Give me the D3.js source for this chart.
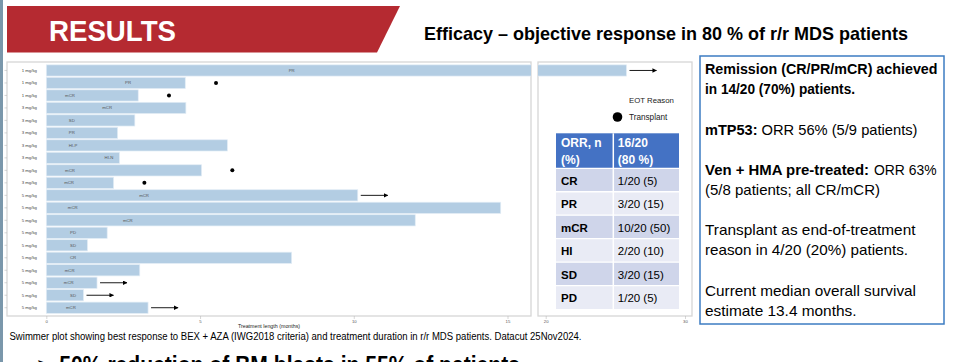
<!DOCTYPE html>
<html>
<head>
<meta charset="utf-8">
<script src="https://cdn.jsdelivr.net/npm/d3@7"></script>
<style>
  body { margin: 0; background: #fff; }
  svg { display: block; font-family: "Liberation Sans", Arial, sans-serif; }
</style>
</head>
<body>
<script>
// swimmer plot data, one entry per patient (top to bottom)
var doses = ["1 mg/kg","1 mg/kg","1 mg/kg","3 mg/kg","3 mg/kg","3 mg/kg","3 mg/kg","3 mg/kg","3 mg/kg","3 mg/kg",
             "5 mg/kg","5 mg/kg","5 mg/kg","5 mg/kg","5 mg/kg","5 mg/kg","5 mg/kg","5 mg/kg","5 mg/kg","5 mg/kg"];
var months = [25.8, 4.52, 2.99, 4.54, 2.88, 2.32, 5.89, 2.38, 5.05, 2.19,
              10.13, 14.78, 12.0, 1.98, 1.34, 7.98, 3.04, 1.65, 1.21, 3.31];
var response = ["PR","PR","mCR","mCR","SD","PR","HI-P","HI-N","mCR","mCR",
                "mCR","mCR","mCR","PD","SD","CR","mCR","mCR","SD","mCR"];
// where the response label sits along the bar (months)
var labelAt = [7.98, 2.66, 0.77, 1.98, 0.83, 0.83, 0.87, 2.04, 0.77, 0.74,
               3.18, 0.86, 2.65, 0.87, 0.87, 0.87, 0.76, 0.73, 0.87, 0.8];
var ongoing = [1,0,0,0,0,0,0,0,0,0, 1,0,0,0,0,0,0,1,1,1];
var transplant = [0,1,1,0,0,0,0,0,1,1, 0,0,0,0,0,0,0,0,0,0];

var leftTicks = [0, 5, 10, 15];
var rightTicks = [20, 30];

// ORR table
var tableHead = ["ORR, n", "(%)", "16/20", "(80 %)"];
var tableCats = ["CR","PR","mCR","HI","SD","PD"];
var tableVals = ["1/20 (5)","3/20 (15)","10/20 (50)","2/20 (10)","3/20 (15)","1/20 (5)"];

var svg = d3.select("body").append("svg")
    .attr("width", 958)
    .attr("height", 362);

// slide edge stripe
svg.append("rect").attr("x", 0).attr("y", 0).attr("width", 3).attr("height", 362).attr("fill", "#7a97ab");

// header banner
svg.append("path")
    .attr("d", "M7,6 L400,6 L377,52.5 L7,52.5 Z")
    .attr("fill", "#b52a31");
svg.append("text").attr("x", 49).attr("y", 40.7)
    .attr("font-size", 29).attr("font-weight", "bold").attr("fill", "#fff")
    .attr("textLength", 127).attr("lengthAdjust", "spacingAndGlyphs")
    .text("RESULTS");
svg.append("text").attr("x", 424).attr("y", 39.5)
    .attr("font-size", 18.5).attr("font-weight", "bold").attr("fill", "#000")
    .attr("textLength", 484).attr("lengthAdjust", "spacingAndGlyphs")
    .text("Efficacy \u2013 objective response in 80 % of r/r MDS patients");

// scales
var xL = d3.scaleLinear().domain([0, 15]).range([46.3, 507.5]);
var xR = d3.scaleLinear().domain([20, 30]).range([545.7, 685]);
var y = d3.scaleBand().domain(d3.range(months.length)).range([63.6, 314.6]).padding(0.1);

var leftBox = {x0: 7, x1: 531, y0: 62, y1: 316};
var rightBox = {x0: 538, x1: 692, y0: 62, y1: 316};
var breakAt = xL.invert(leftBox.x1);

var defs = svg.append("defs");
defs.append("clipPath").attr("id", "clipL").append("rect")
    .attr("x", leftBox.x0).attr("y", leftBox.y0)
    .attr("width", leftBox.x1 - leftBox.x0).attr("height", leftBox.y1 - leftBox.y0);
defs.append("clipPath").attr("id", "clipR").append("rect")
    .attr("x", rightBox.x0).attr("y", rightBox.y0)
    .attr("width", rightBox.x1 - rightBox.x0).attr("height", rightBox.y1 - rightBox.y0);
defs.append("marker").attr("id", "arrow")
    .attr("viewBox", "0 0 10 10").attr("refX", 9).attr("refY", 5)
    .attr("markerWidth", 4.5).attr("markerHeight", 4.5)
    .attr("markerUnits", "userSpaceOnUse").attr("orient", "auto")
    .append("path").attr("d", "M0,0 L10,5 L0,10 Z").attr("fill", "#000");

var rows = months.map(function (m, i) {
  return {i: i, m: m, dose: doses[i], resp: response[i], lab: labelAt[i],
          ongoing: ongoing[i], transplant: transplant[i]};
});

// panel frames
[leftBox, rightBox].forEach(function (b) {
  svg.append("rect").attr("x", b.x0).attr("y", b.y0)
      .attr("width", b.x1 - b.x0).attr("height", b.y1 - b.y0)
      .attr("fill", "#fff").attr("stroke", "#d6d6d6").attr("stroke-width", 1.3);
});

// left panel
var gL = svg.append("g").attr("clip-path", "url(#clipL)");
gL.selectAll("rect.bar").data(rows).enter().append("rect")
    .attr("class", "bar")
    .attr("x", xL(0))
    .attr("y", function (d) { return y(d.i); })
    .attr("width", function (d) { return xL(d.m) - xL(0); })
    .attr("height", y.bandwidth())
    .attr("fill", "#b3cde3")
    .attr("stroke", "#e3edf6").attr("stroke-width", 0.7);

gL.selectAll("text.resp").data(rows).enter().append("text")
    .attr("x", function (d) { return xL(d.lab); })
    .attr("y", function (d) { return y(d.i) + y.bandwidth() / 2 + 1.5; })
    .attr("text-anchor", "middle").attr("font-size", 4.3).attr("fill", "#555")
    .text(function (d) { return d.resp; });

gL.selectAll("circle").data(rows.filter(function (d) { return d.transplant; })).enter().append("circle")
    .attr("cx", function (d) { return xL(d.m + 1); })
    .attr("cy", function (d) { return y(d.i) + y.bandwidth() / 2; })
    .attr("r", 2).attr("fill", "#000");

gL.selectAll("line.arr").data(rows.filter(function (d) { return d.ongoing && d.m < breakAt; })).enter().append("line")
    .attr("x1", function (d) { return xL(d.m) + 3; })
    .attr("x2", function (d) { return xL(d.m) + 30; })
    .attr("y1", function (d) { return y(d.i) + y.bandwidth() / 2; })
    .attr("y2", function (d) { return y(d.i) + y.bandwidth() / 2; })
    .attr("stroke", "#000").attr("stroke-width", 0.9).attr("marker-end", "url(#arrow)");

// right panel (broken axis)
var gR = svg.append("g").attr("clip-path", "url(#clipR)");
var longRows = rows.filter(function (d) { return d.m > breakAt; });
gR.selectAll("rect.bar").data(longRows).enter().append("rect")
    .attr("x", xR(xR.invert(rightBox.x0) - 1))
    .attr("y", function (d) { return y(d.i); })
    .attr("width", function (d) { return xR(d.m) - xR(xR.invert(rightBox.x0) - 1); })
    .attr("height", y.bandwidth())
    .attr("fill", "#b3cde3")
    .attr("stroke", "#e3edf6").attr("stroke-width", 0.7);
gR.selectAll("line.arr").data(longRows.filter(function (d) { return d.ongoing; })).enter().append("line")
    .attr("x1", function (d) { return xR(d.m) + 3; })
    .attr("x2", function (d) { return xR(d.m) + 30; })
    .attr("y1", function (d) { return y(d.i) + y.bandwidth() / 2; })
    .attr("y2", function (d) { return y(d.i) + y.bandwidth() / 2; })
    .attr("stroke", "#000").attr("stroke-width", 0.9).attr("marker-end", "url(#arrow)");

// y labels and ticks
svg.selectAll("text.dose").data(rows).enter().append("text")
    .attr("x", 37)
    .attr("y", function (d) { return y(d.i) + y.bandwidth() / 2 + 1.5; })
    .attr("text-anchor", "end").attr("font-size", 4.3).attr("fill", "#444")
    .text(function (d) { return d.dose; });
svg.selectAll("line.ytick").data(rows).enter().append("line")
    .attr("x1", 4.5).attr("x2", 7)
    .attr("y1", function (d) { return y(d.i) + y.bandwidth() / 2; })
    .attr("y2", function (d) { return y(d.i) + y.bandwidth() / 2; })
    .attr("stroke", "#bbb").attr("stroke-width", 0.6);

// x axes
var axL = svg.append("g").attr("transform", "translate(0," + leftBox.y1 + ")")
    .call(d3.axisBottom(xL).tickValues(leftTicks).tickSize(3).tickFormat(d3.format("d")));
var axR = svg.append("g").attr("transform", "translate(0," + rightBox.y1 + ")")
    .call(d3.axisBottom(xR).tickValues(rightTicks).tickSize(3).tickFormat(d3.format("d")));
[axL, axR].forEach(function (ax) {
  ax.select(".domain").remove();
  ax.selectAll("line").attr("stroke", "#bbb").attr("stroke-width", 0.6);
  ax.selectAll("text").attr("font-size", 4.3).attr("fill", "#555").attr("dy", "0.3em")
      .attr("font-family", "Liberation Sans, Arial, sans-serif");
});
svg.append("text").attr("x", (leftBox.x0 + leftBox.x1) / 2).attr("y", 327.5)
    .attr("text-anchor", "middle").attr("font-size", 5.3).attr("fill", "#222")
    .text("Treatment length (months)");

// legend
svg.append("text").attr("x", 629).attr("y", 103).attr("font-size", 7.8).attr("fill", "#222").text("EOT Reason");
svg.append("circle").attr("cx", 617.5).attr("cy", 117).attr("r", 4.8).attr("fill", "#000");
svg.append("text").attr("x", 629).attr("y", 120).attr("font-size", 8.2).attr("fill", "#222").text("Transplant");

// ORR table
var tX0 = 556, tXs = 613.3, tX1 = 679;
var tY0 = 133.3, headH = 35, rowH = 23.45;
var tg = svg.append("g");
tg.append("rect").attr("x", tX0).attr("y", tY0).attr("width", tX1 - tX0).attr("height", headH).attr("fill", "#4472c4");
tg.append("text").attr("x", tX0 + 5).attr("y", tY0 + 13.5).attr("font-size", 12).attr("font-weight", "bold").attr("fill", "#fff").text(tableHead[0]);
tg.append("text").attr("x", tX0 + 5).attr("y", tY0 + 31).attr("font-size", 12).attr("font-weight", "bold").attr("fill", "#fff").text(tableHead[1]);
tg.append("text").attr("x", tXs + 4.5).attr("y", tY0 + 13.5).attr("font-size", 12).attr("font-weight", "bold").attr("fill", "#fff").text(tableHead[2]);
tg.append("text").attr("x", tXs + 4.5).attr("y", tY0 + 31).attr("font-size", 12).attr("font-weight", "bold").attr("fill", "#fff").text(tableHead[3]);
var trows = tg.selectAll("g.tr").data(tableCats).enter().append("g")
    .attr("transform", function (d, i) { return "translate(0," + (tY0 + headH + i * rowH) + ")"; });
trows.append("rect").attr("x", tX0).attr("y", 0).attr("width", tX1 - tX0).attr("height", rowH)
    .attr("fill", function (d, i) { return i % 2 === 0 ? "#cfd5ea" : "#e9ebf5"; });
trows.append("text").attr("x", tX0 + 5).attr("y", 16.5).attr("font-size", 11.5).attr("font-weight", "bold").attr("fill", "#000")
    .text(function (d) { return d; });
trows.append("text").attr("x", tXs + 4.5).attr("y", 16.5).attr("font-size", 11.5).attr("fill", "#000")
    .text(function (d, i) { return tableVals[i]; });
// white cell borders
tg.append("line").attr("x1", tXs).attr("x2", tXs).attr("y1", tY0).attr("y2", tY0 + headH + rowH * tableCats.length)
    .attr("stroke", "#fff").attr("stroke-width", 1.5);
tg.selectAll("line.hr").data(d3.range(tableCats.length)).enter().append("line")
    .attr("x1", tX0).attr("x2", tX1)
    .attr("y1", function (i) { return tY0 + headH + i * rowH; })
    .attr("y2", function (i) { return tY0 + headH + i * rowH; })
    .attr("stroke", "#fff").attr("stroke-width", 1.3);

// summary text box
svg.append("rect").attr("x", 700).attr("y", 56).attr("width", 244).attr("height", 268)
    .attr("fill", "#fff").attr("stroke", "#3d7cc2").attr("stroke-width", 1.5);
var boxLines = [
  {x: 705, y: 73.5, w: 232.5, t: "Remission (CR/PR/mCR) achieved", b: true},
  {x: 705, y: 93.5, w: 150, t: "in 14/20 (70%) patients.", b: true},
  {x: 705, y: 135, w: 52.5, t: "mTP53:", b: true},
  {x: 761.5, y: 135, w: 156, t: "ORR 56% (5/9 patients)", b: false},
  {x: 705, y: 175, w: 164, t: "Ven + HMA pre-treated:", b: true},
  {x: 874, y: 175, w: 62.5, t: "ORR 63%", b: false},
  {x: 705, y: 195, w: 175, t: "(5/8 patients; all CR/mCR)", b: false},
  {x: 705, y: 235, w: 210.5, t: "Transplant as end-of-treatment", b: false},
  {x: 705, y: 255, w: 203, t: "reason in 4/20 (20%) patients.", b: false},
  {x: 705, y: 296, w: 211, t: "Current median overall survival", b: false},
  {x: 705, y: 315.5, w: 151.5, t: "estimate 13.4 months.", b: false}
];
svg.selectAll("text.box").data(boxLines).enter().append("text")
    .attr("x", function (d) { return d.x; })
    .attr("y", function (d) { return d.y; })
    .attr("font-size", 15)
    .attr("font-weight", function (d) { return d.b ? "bold" : "normal"; })
    .attr("fill", "#000")
    .attr("textLength", function (d) { return d.w; })
    .attr("lengthAdjust", "spacingAndGlyphs")
    .text(function (d) { return d.t; });

// caption and next bullet (cut off)
svg.append("text").attr("x", 9.5).attr("y", 340).attr("font-size", 10).attr("fill", "#000")
    .attr("textLength", 572).attr("lengthAdjust", "spacingAndGlyphs")
    .text("Swimmer plot showing best response to BEX + AZA  (IWG2018 criteria) and treatment duration in r/r MDS patients. Datacut 25Nov2024.");
svg.append("text").attr("x", 36).attr("y", 373).attr("font-size", 23).attr("font-weight", "bold").attr("fill", "#000")
    .attr("textLength", 484).attr("lengthAdjust", "spacingAndGlyphs")
    .text("\u27A2 50% reduction of BM blasts in 55% of patients");
</script>
</body>
</html>
